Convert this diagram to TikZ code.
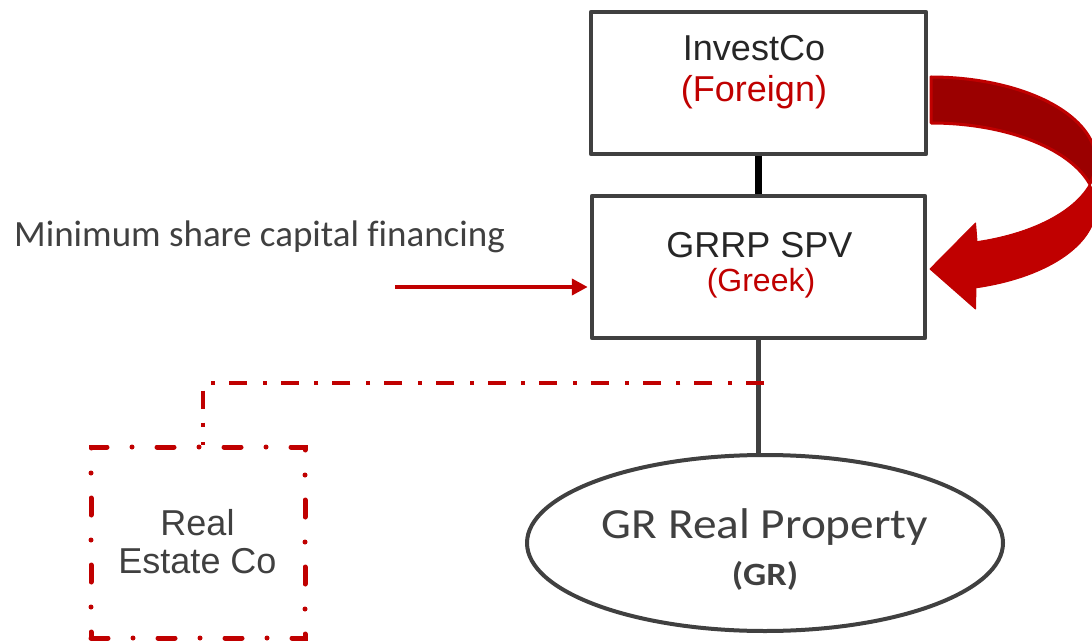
\documentclass[tikz,border=0pt]{standalone}
\usepackage{fontspec}
\setmainfont{Liberation Sans}
\newfontfamily\calfont[Ligatures=NoCommon]{Carlito}
\usetikzlibrary{arrows.meta,shapes.geometric}

\definecolor{brandred}{HTML}{C00000}
\definecolor{darkred}{HTML}{9B0000}
\definecolor{boxgray}{HTML}{404040}
\definecolor{inkdark}{HTML}{262626}

\begin{document}
\begin{tikzpicture}[x=1pt,y=-1pt,
  entity/.style={draw=boxgray, line width=4.5pt, fill=white, rectangle,
    inner sep=0pt, line join=round},
  asset/.style={draw=boxgray, line width=4pt, fill=white, ellipse, inner sep=0pt},
  affiliate/.style={draw=brandred, line width=5pt, rectangle, inner sep=0pt,
    line cap=round, dash pattern=on 17pt off 25pt on 0pt off 25pt},
  txt/.style={anchor=base, inner sep=0pt},
  bigtxt/.style={txt, font=\fontsize{36}{40}\selectfont},
  redlink/.style={draw=brandred, line width=4.3pt, line cap=butt,
    dash pattern=on 18pt off 14pt on 4pt off 15.7pt},
  fundflow/.style={draw=brandred, line width=4pt,
    -{Triangle[length=16pt,width=16pt]}}
]
\useasboundingbox (0,0) rectangle (1092,644);
\clip (0,0) rectangle (1092,644);

% entities
\node[entity, minimum width=335pt, minimum height=142pt] (investco) at (758.5,83) {};
\node[entity, minimum width=333pt, minimum height=142pt] (spv) at (758.5,267) {};
\node[asset, minimum width=476pt, minimum height=176pt] (property) at (765,543) {};
\node[affiliate, minimum width=214pt, minimum height=191pt] (realestate) at (198,542.5) {};

% ownership lines
\draw[black, line width=7pt] (investco.south) -- (spv.north);
\draw[boxgray, line width=5pt] (spv.south) -- (spv.south |- property.north);

% related real estate company link
\coordinate (tap) at (764,383);
\draw[redlink] (tap) -| ([xshift=5pt]realestate.north);

% share capital financing
\coordinate (finstart) at (395,287);
\draw[fundflow, shorten >=2pt] (finstart) -- (finstart -| spv.west);

% labels
\node[bigtxt, text=inkdark] (investco-name) at (754,61) {InvestCo};
\node[bigtxt, text=brandred] (investco-juris) at (754,102) {(Foreign)};
\node[bigtxt, text=inkdark] (spv-name) at (759.5,258) {GRRP SPV};
\node[txt, text=brandred, font=\fontsize{32}{36}\selectfont] (spv-juris) at (761,291) {(Greek)};
\node[txt, text=boxgray, font=\calfont\fontsize{37}{40}\selectfont, anchor=base west] (fin-label) at (14,247) {Minimum share capital financing};
\node[txt, text=boxgray, font=\calfont\fontsize{43}{48}\selectfont, xscale=1.1] (property-name) at (765,538) {GR Real Property};
\node[txt, text=boxgray, font=\calfont\bfseries\fontsize{32.5}{36}\selectfont, xscale=1.12] (property-juris) at (765,585) {(GR)};
\node[bigtxt, text=boxgray] (re-line1) at (197.5,535) {Real};
\node[bigtxt, text=boxgray] (re-line2) at (197.5,573) {Estate Co};

% curved return arrow: back face
\path[fill=darkred, draw=brandred, line width=3pt, line join=round]
  plot[domain=-90:15.9, samples=60, variable=\t] ({931+165*cos(\t)},{161+84*sin(\t)})
  -- plot[domain=-15.9:-90, samples=60, variable=\t] ({931+165*cos(\t)},{207+84*sin(\t)})
  -- cycle;
% curved return arrow: front face with head
\path[fill=brandred, draw=brandred, line width=1pt, line join=round]
  plot[domain=15.9:73.8, samples=60, variable=\t] ({931+165*cos(\t)},{161+84*sin(\t)})
  -- (975.5,223) -- (930,269) -- (975.5,309)
  -- plot[domain=74.2:-15.9, samples=60, variable=\t] ({931+165*cos(\t)},{207+84*sin(\t)})
  -- cycle;
\end{tikzpicture}
\end{document}
